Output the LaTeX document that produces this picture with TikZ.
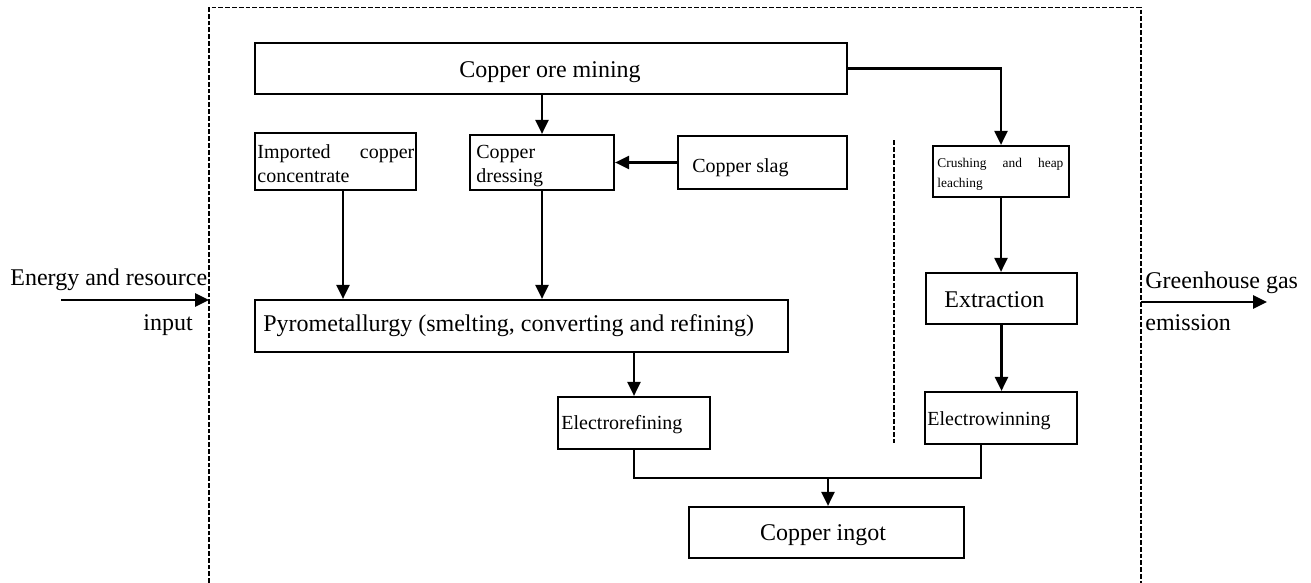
\documentclass[tikz,border=0pt]{standalone}
\usepackage{fontspec}
\setmainfont{Liberation Serif}
\usetikzlibrary{arrows.meta,calc}
\begin{document}
\begin{tikzpicture}[x=0.5pt,y=-0.5pt,
  box/.style={draw,line width=1.1pt,inner sep=0pt},
  lbl/.style={inner sep=0pt},
  big/.style={font=\fontsize{12}{14.4}\selectfont},
  mid/.style={font=\fontsize{10}{12.5}\selectfont},
  small/.style={font=\fontsize{6.7}{10.2}\selectfont},
  flow/.style={line width=1.1pt},
  arr/.style={flow,-{Triangle[length=7pt,width=6.5pt]}},
  io/.style={line width=1.3pt,-{Triangle[length=7pt,width=6.5pt]}},
  frame/.style={line width=0.7pt,dash pattern=on 2.4pt off 1pt}]
\useasboundingbox (0,0) rectangle (1311,583);

% system boundary (open at the bottom) and the divider between the two routes
\coordinate (fbl) at (209,583);
\coordinate (ftl) at (209,7.5);
\coordinate (ftr) at (1141,7.5);
\coordinate (fbr) at (1141,583);
\draw[frame] (fbl) -- (ftl) -- (ftr) -- (fbr);
\coordinate (sept) at (894,140);
\coordinate (sepb) at (894,443);
\draw[frame] (sept) -- (sepb);

% process boxes
\node[box,minimum width=296pt,minimum height=25.5pt] (ore) at (551,68.5) {};
\node[box,minimum width=80.5pt,minimum height=28.5pt] (imp) at (335.5,161.5) {};
\node[box,minimum width=72pt,minimum height=27.5pt] (dress) at (542,162.5) {};
\node[box,minimum width=84.5pt,minimum height=26.5pt] (slag) at (762.5,162.5) {};
\node[box,minimum width=68pt,minimum height=25.5pt] (crush) at (1001,171.5) {};
\node[box,minimum width=75.5pt,minimum height=25.5pt] (extr) at (1001.5,298.5) {};
\node[box,minimum width=266.5pt,minimum height=26pt] (pyro) at (521.5,326) {};
\node[box,minimum width=76pt,minimum height=26pt] (eref) at (634,423) {};
\node[box,minimum width=76pt,minimum height=26pt] (ewin) at (1001,418) {};
\node[box,minimum width=137.5pt,minimum height=25.5pt] (ingot) at (826.5,532.5) {};

% box texts
\node[lbl,big,anchor=base] (oret) at (550,78) {Copper ore mining};
\node[lbl,mid,anchor=base west,text width=78.5pt,align=left] (impt) at (257,158)
  {Imported\hfill copper\\concentrate};
\node[lbl,mid,anchor=base west,text width=60pt,align=left] (dresst) at (476,158)
  {Copper\\dressing};
\node[lbl,mid,anchor=base west] (slagt) at (692,172) {Copper slag};
\node[lbl,small,anchor=base west,text width=63pt,align=left] (crusht) at (937,167)
  {Crushing\hfill and\hfill heap\\leaching};
\node[lbl,big,anchor=base west] (extrt) at (944,307) {Extraction};
\node[lbl,big,anchor=base west] (pyrot) at (263,331)
  {Pyrometallurgy (smelting, converting and refining)};
\node[lbl,mid,anchor=base west] (ereft) at (561,429) {Electrorefining};
\node[lbl,mid,anchor=base west] (ewint) at (927,425) {Electrowinning};
\node[lbl,big,anchor=base] (ingott) at (823,540) {Copper ingot};

% flows
\draw[arr] (dress.north |- ore.south) -- (dress.north);
\draw[arr] (ore.east) -| (crush.north);
\draw[arr] (slag.west) -- (dress.east);
\coordinate (impout) at ($(imp.south)+(7.5,0)$);
\draw[arr] (impout) -- (impout |- pyro.north);
\draw[arr] (dress.south) -- (dress.south |- pyro.north);
\draw[arr] (eref.north |- pyro.south) -- (eref.north);
\draw[arr] (crush.south) -- (crush.south |- extr.north);
\draw[arr] (extr.south) -- (extr.south |- ewin.north);
\coordinate (merge) at (828,478);
\coordinate (ewinout) at ($(ewin.south)+(-20,0)$);
\draw[flow] (eref.south) |- (merge);
\draw[flow] (ewinout) |- (merge);
\draw[arr] (merge) -- (merge |- ingot.north);

% inputs and outputs across the boundary
\coordinate (ein) at (61,300);
\draw[io] (ein) -- (ein -| ftl);
\coordinate (gout) at (1267,302);
\draw[io] (gout -| ftr) -- (gout);
\node[lbl,big,anchor=base west] (eint) at (10,285) {Energy and resource};
\node[lbl,big,anchor=base west] (einb) at (143,330) {input};
\node[lbl,big,anchor=base west] (goutt) at (1145,288) {Greenhouse gas};
\node[lbl,big,anchor=base west] (goutb) at (1145,330) {emission};
\end{tikzpicture}
\end{document}
